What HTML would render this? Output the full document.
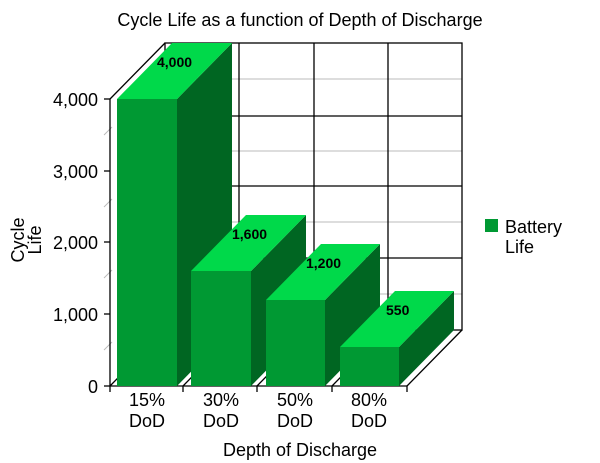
<!DOCTYPE html>
<html><head><meta charset="utf-8"><style>body{margin:0;background:#fff}svg{display:block}text{font-family:"Liberation Sans",Arial,sans-serif}</style></head>
<body><svg width="600" height="463" viewBox="0 0 600 463">
<rect width="600" height="463" fill="#fff"/>
<text x="300" y="26" font-size="18" text-anchor="middle">Cycle Life as a function of Depth of Discharge</text>
<g stroke="#bbb" stroke-width="1">
<line x1="165" y1="79" x2="462" y2="79"/><line x1="165" y1="151" x2="462" y2="151"/><line x1="165" y1="222" x2="462" y2="222"/><line x1="165" y1="294" x2="462" y2="294"/>
<line x1="104" y1="135" x2="112" y2="127"/><line x1="104" y1="207" x2="112" y2="199"/><line x1="104" y1="278" x2="112" y2="270"/><line x1="104" y1="350" x2="112" y2="342"/>
</g>
<g stroke="#000" stroke-width="1.3" fill="none">
<rect x="165" y="43" width="297" height="287"/>
<line x1="165" y1="116" x2="462" y2="116"/><line x1="165" y1="186" x2="462" y2="186"/><line x1="165" y1="258" x2="462" y2="258"/>
<line x1="239" y1="43" x2="239" y2="330"/><line x1="314" y1="43" x2="314" y2="330"/><line x1="388" y1="43" x2="388" y2="330"/>
<line x1="110" y1="99" x2="165" y2="43"/>
<line x1="110" y1="386" x2="165" y2="330"/><line x1="183" y1="386" x2="238" y2="330"/><line x1="257" y1="386" x2="312" y2="330"/><line x1="332" y1="386" x2="387" y2="330"/><line x1="407" y1="386" x2="462" y2="330"/>
<line x1="110" y1="99" x2="110" y2="386"/><line x1="110" y1="386" x2="407" y2="386"/>
<line x1="104" y1="99" x2="110" y2="99"/><line x1="104" y1="171" x2="110" y2="171"/><line x1="104" y1="242" x2="110" y2="242"/><line x1="104" y1="314" x2="110" y2="314"/><line x1="104" y1="386" x2="110" y2="386"/>
<line x1="110" y1="386" x2="110" y2="392"/><line x1="183" y1="386" x2="183" y2="392"/><line x1="257" y1="386" x2="257" y2="392"/><line x1="332" y1="386" x2="332" y2="392"/><line x1="407" y1="386" x2="407" y2="392"/>
</g>
<g>
<polygon points="177,99 232,43 232,330 177,386" fill="#006622"/>
<polygon points="117,99 172,43 232,43 177,99" fill="#00d94a"/>
<rect x="117" y="99" width="60" height="287" fill="#009933"/>
<polygon points="251,271 306,215 306,330 251,386" fill="#006622"/>
<polygon points="191,271 246,215 306,215 251,271" fill="#00d94a"/>
<rect x="191" y="271" width="60" height="115" fill="#009933"/>
<polygon points="325,300 380,244 380,330 325,386" fill="#006622"/>
<polygon points="266,300 321,244 380,244 325,300" fill="#00d94a"/>
<rect x="266" y="300" width="59" height="86" fill="#009933"/>
<polygon points="399,347 454,291 454,330 399,386" fill="#006622"/>
<polygon points="340,347 395,291 454,291 399,347" fill="#00d94a"/>
<rect x="340" y="347" width="59" height="39" fill="#009933"/>
</g>
<g font-size="14" font-weight="bold">
<text x="157" y="67">4,000</text><text x="232" y="239">1,600</text><text x="306" y="268">1,200</text><text x="386" y="315">550</text>
</g>
<g font-size="18" text-anchor="end">
<text x="98" y="106">4,000</text><text x="98" y="178">3,000</text><text x="98" y="249">2,000</text><text x="98" y="321">1,000</text><text x="98" y="393">0</text>
</g>
<g font-size="18" text-anchor="middle">
<text x="147" y="406">15%</text><text x="147" y="427">DoD</text>
<text x="221" y="406">30%</text><text x="221" y="427">DoD</text>
<text x="295" y="406">50%</text><text x="295" y="427">DoD</text>
<text x="369" y="406">80%</text><text x="369" y="427">DoD</text>
<text x="300" y="456">Depth of Discharge</text>
</g>
<g font-size="18" text-anchor="middle" transform="translate(24,240) rotate(-90)">
<text x="0" y="0">Cycle</text><text x="0" y="17">Life</text>
</g>
<rect x="485" y="219" width="13" height="13" fill="#009933"/>
<text x="505" y="233" font-size="18">Battery</text>
<text x="505" y="253" font-size="18">Life</text>
</svg></body></html>
